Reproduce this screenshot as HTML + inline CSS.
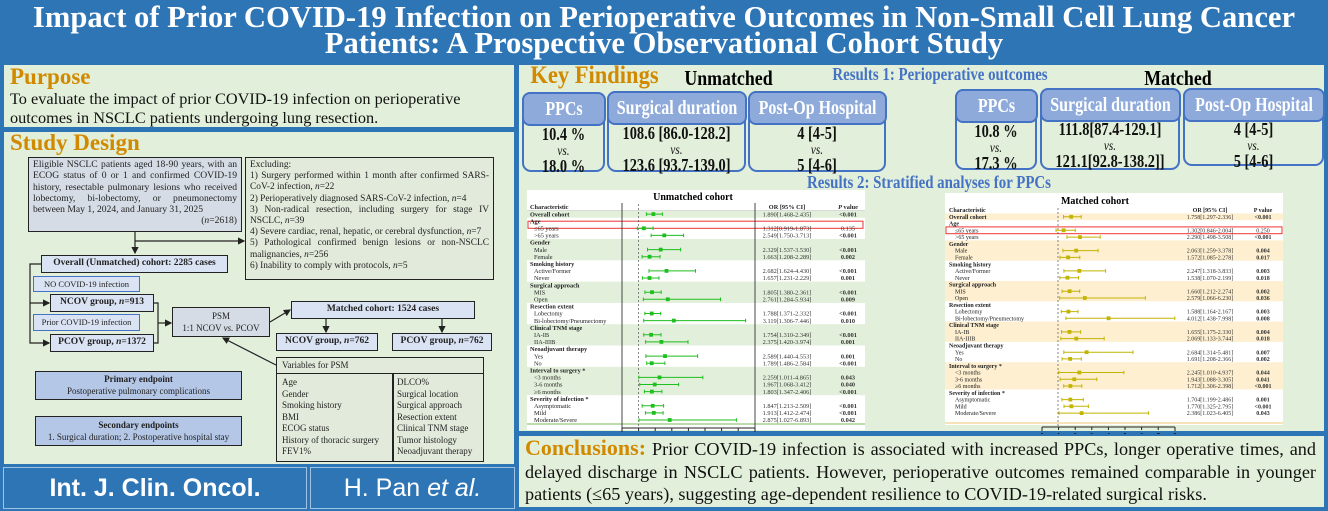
<!DOCTYPE html>
<html><head><meta charset="utf-8">
<style>
*{margin:0;padding:0;box-sizing:border-box}
body{width:1328px;height:511px;position:relative;background:#2e75b6;font-family:"Liberation Serif",serif;overflow:hidden}
.a{position:absolute}
.panel{position:absolute;background:#e2efda;border:2px solid #2e75b6}
.bx{position:absolute;border:1.5px solid #222;font-size:8.6px;line-height:11.4px;color:#222}
.hd{color:#d18a00;font-weight:bold}
.kb{position:absolute;border:2.5px solid #4472c4;border-radius:9px;text-align:center;font-weight:bold;font-size:18px;line-height:15px;color:#111;white-space:nowrap}
.kh{background:#8eaadb;color:#fff;border-radius:8px;border:2.5px solid #4472c4;margin:-2.5px -2.5px 0 -2.5px;height:34px;line-height:31px;font-size:20px}
.kb i{font-weight:normal;font-size:14px}
.c{display:block;width:300%;margin-left:-100%;text-align:center;transform:scaleX(.8);transform-origin:center;white-space:nowrap}
</style></head><body>
<div class="a" style="left:0;top:0;width:1328px;height:62px;color:#fff;font-weight:bold;font-size:30.6px;line-height:26px;text-align:center;padding-top:4px;white-space:nowrap">Impact of Prior COVID-19 Infection on Perioperative Outcomes in Non-Small Cell Lung Cancer<br>Patients: A Prospective Observational Cohort Study</div>

<div class="panel" style="left:2px;top:63px;width:514px;height:66px;padding-left:6px">
<div class="hd" style="font-size:23px;line-height:24px">Purpose</div>
<div style="font-size:16.3px;line-height:19px;color:#111">To evaluate the impact of prior COVID-19 infection on perioperative outcomes in NSCLC patients undergoing lung resection.</div>
</div>

<div class="panel" style="left:2px;top:130px;width:514px;height:336px">
<div class="hd a" style="left:6px;top:-2px;font-size:23px">Study Design</div>
</div>
<div class="bx" style="left:28px;top:157px;width:214px;height:75px;background:#d6dce5;padding:1px 4px;text-align:justify;font-size:9.6px;line-height:11.3px">Eligible NSCLC patients aged 18-90 years, with an ECOG status of 0 or 1 and confirmed COVID-19 history, resectable pulmonary lesions who received lobectomy, bi-lobectomy, or pneumonectomy between May 1, 2024, and January 31, 2025<div style="text-align:right">(<i>n</i>=2618)</div></div>
<div class="bx" style="left:245px;top:157px;width:249px;height:123px;background:#e2eadb;padding:2px 4px;text-align:justify;font-size:9.4px;line-height:11.2px">Excluding:<br>1) Surgery performed within 1 month after confirmed SARS-CoV-2 infection, <i>n</i>=22<br>2) Perioperatively diagnosed SARS-CoV-2 infection, <i>n</i>=4<br>3) Non-radical resection, including surgery for stage IV NSCLC, <i>n</i>=39<br>4) Severe cardiac, renal, hepatic, or cerebral dysfunction, <i>n</i>=7<br>5) Pathological confirmed benign lesions or non-NSCLC malignancies, <i>n</i>=256<br>6) Inability to comply with protocols, <i>n</i>=5</div>
<div class="bx" style="left:41px;top:255px;width:187px;height:18px;background:#dae3f3;font-weight:bold;text-align:center;line-height:15px;font-size:9.5px">Overall (Unmatched) cohort: 2285 cases</div>
<div class="bx" style="left:33px;top:276px;width:107px;height:16px;background:#dae3f3;border:1px solid #4472c4;text-align:center;line-height:14px;font-size:8.5px">NO COVID-19 infection</div>
<div class="bx" style="left:50px;top:294px;width:104px;height:18px;background:#dae3f3;font-weight:bold;text-align:center;line-height:15px;font-size:9.5px">NCOV group, <i>n</i>=913</div>
<div class="bx" style="left:33px;top:314px;width:107px;height:17px;background:#dae3f3;border:1px solid #4472c4;text-align:center;line-height:15px;font-size:8.5px">Prior COVID-19 infection</div>
<div class="bx" style="left:50px;top:334px;width:104px;height:18px;background:#dae3f3;font-weight:bold;text-align:center;line-height:15px;font-size:9.5px">PCOV group, <i>n</i>=1372</div>
<div class="bx" style="left:172px;top:307px;width:98px;height:30px;background:#d6dce5;text-align:center;line-height:12px;font-size:9px;padding-top:2px">PSM<br>1:1 NCOV <i>vs.</i> PCOV</div>
<div class="bx" style="left:291px;top:301px;width:184px;height:18px;background:#dae3f3;font-weight:bold;text-align:center;line-height:15px;font-size:9.5px">Matched cohort: 1524 cases</div>
<div class="bx" style="left:276px;top:333px;width:102px;height:18px;background:#dae3f3;font-weight:bold;text-align:center;line-height:15px;font-size:9.5px">NCOV group, <i>n</i>=762</div>
<div class="bx" style="left:392px;top:333px;width:100px;height:18px;background:#dae3f3;font-weight:bold;text-align:center;line-height:15px;font-size:9.5px">PCOV group, <i>n</i>=762</div>
<div class="bx" style="left:276px;top:357px;width:208px;height:105px;background:#e2eadb;font-size:9px">
<div style="height:16px;border-bottom:1.5px solid #222;padding-left:5px;line-height:15px">Variables for PSM</div>
<div class="a" style="left:115px;top:16px;width:1.5px;height:87px;background:#222"></div>
<div class="a" style="left:5px;top:19px;line-height:11.5px">Age<br>Gender<br>Smoking history<br>BMI<br>ECOG status<br>History of thoracic surgery<br>FEV1%</div>
<div class="a" style="left:120px;top:19px;line-height:11.5px">DLCO%<br>Surgical location<br>Surgical approach<br>Resection extent<br>Clinical TNM stage<br>Tumor histology<br>Neoadjuvant therapy</div>
</div>
<div class="bx" style="left:35px;top:371px;width:207px;height:29px;background:#b4c7e7;text-align:center;line-height:11.5px;padding-top:2px;font-size:9px"><b>Primary endpoint</b><br>Postoperative pulmonary complications</div>
<div class="bx" style="left:35px;top:416px;width:207px;height:30px;background:#b4c7e7;text-align:center;line-height:11.5px;padding-top:3px;font-size:9px"><b>Secondary endpoints</b><br>1. Surgical duration; 2. Postoperative hospital stay</div>
<svg class="a" style="left:0;top:0" width="520" height="470">
<defs><marker id="ar" markerWidth="6" markerHeight="6" refX="5" refY="3" orient="auto"><path d="M0,0L6,3L0,6z" fill="#222"/></marker></defs>
<g stroke="#222" stroke-width="1.2" fill="none">
<path d="M135,232V253" marker-end="url(#ar)"/>
<path d="M135,241H244" marker-end="url(#ar)"/>
<path d="M41,264H30V343H49" marker-end="url(#ar)"/>
<path d="M30,303H49" marker-end="url(#ar)"/>
<path d="M154,303H158V343H154"/>
<path d="M158,323H171" marker-end="url(#ar)"/>
<path d="M270,322L290,310" marker-end="url(#ar)"/>
<path d="M326,319V332" marker-end="url(#ar)"/>
<path d="M442,319V332" marker-end="url(#ar)"/>
<path d="M276,365L223,338" marker-end="url(#ar)"/>
</g></svg>
<div class="a" style="left:3px;top:467px;width:304px;height:42px;background:#2e75b6;border:1px solid #9dc3e6;color:#fff;font-family:'Liberation Sans',sans-serif;font-weight:bold;font-size:25px;line-height:40px;text-align:center">Int. J. Clin. Oncol.</div>
<div class="a" style="left:310px;top:467px;width:205px;height:42px;background:#2e75b6;border:1px solid #9dc3e6;color:#fff;font-family:'Liberation Sans',sans-serif;font-size:25px;line-height:40px;text-align:center">H. Pan <i>et al.</i></div>

<div class="panel" style="left:517px;top:63px;width:809px;height:370px"></div>
<div class="a hd" style="left:523px;top:62px;font-size:25px;width:143px"><span class="c" style="transform:scaleX(.9)">Key Findings</span></div>
<div class="a" style="left:676px;top:66px;font-size:21px;font-weight:bold;width:105px"><span class="c" style="transform:scaleX(.85)">Unmatched</span></div>
<div class="a" style="left:797px;top:64px;font-size:17.5px;font-weight:bold;color:#4472c4;width:286px"><span class="c" style="transform:scaleX(.85)">Results 1: Perioperative outcomes</span></div>
<div class="a" style="left:1137px;top:66px;font-size:21px;font-weight:bold;width:82px"><span class="c" style="transform:scaleX(.85)">Matched</span></div>
<div class="kb" style="left:522px;top:92px;width:83px;height:80px"><div class="kh"><span class="c">PPCs</span></div><div style="margin-top:1px"><span class="c">10.4 %</span><span class="c"><i>vs.</i></span><span class="c">18.0 %</span></div></div>
<div class="kb" style="left:607px;top:91px;width:139px;height:81px"><div class="kh"><span class="c">Surgical duration</span></div><div style="margin-top:1px"><span class="c">108.6 [86.0-128.2]</span><span class="c"><i>vs.</i></span><span class="c">123.6 [93.7-139.0]</span></div></div>
<div class="kb" style="left:748px;top:91px;width:138px;height:81px"><div class="kh"><span class="c">Post-Op Hospital</span></div><div style="margin-top:1px"><span class="c">4 [4-5]</span><span class="c"><i>vs.</i></span><span class="c">5 [4-6]</span></div></div>
<div class="kb" style="left:955px;top:89px;width:82px;height:81px"><div class="kh"><span class="c">PPCs</span></div><div style="margin-top:1px"><span class="c">10.8 %</span><span class="c"><i>vs.</i></span><span class="c">17.3 %</span></div></div>
<div class="kb" style="left:1040px;top:88px;width:140px;height:82px"><div class="kh"><span class="c">Surgical duration</span></div><div style="margin-top:0px"><span class="c">111.8[87.4-129.1]</span><span class="c"><i>vs.</i></span><span class="c">121.1[92.8-138.2]]</span></div></div>
<div class="kb" style="left:1183px;top:88px;width:141px;height:78px"><div class="kh"><span class="c">Post-Op Hospital</span></div><div style="margin-top:0px"><span class="c">4 [4-5]</span><span class="c"><i>vs.</i></span><span class="c">5 [4-6]</span></div></div>

<!-- Unmatched forest -->
<svg class="a" style="left:527px;top:190px;font-family:'Liberation Serif',serif" width="338" height="250">
<rect x="0" y="0" width="338" height="240" fill="#fff"/>
<g fill="#e2efda"><rect x="0" y="20.6" width="338" height="7.1"/><rect x="0" y="49" width="338" height="21.3"/><rect x="0" y="91.6" width="338" height="21.3"/><rect x="0" y="134.2" width="338" height="21.3"/><rect x="0" y="176.8" width="338" height="28.4"/></g>
<line x1="0" y1="20.5" x2="338" y2="20.5" stroke="#bbb" stroke-width="0.6"/>
<line x1="0" y1="234" x2="338" y2="234" stroke="#a9cf8f" stroke-width="1.5"/>
<rect x="1" y="31.2" width="335" height="7.1" fill="none" stroke="#e33" stroke-width="1"/>
<text x="166" y="10" font-size="10" font-weight="bold" text-anchor="middle">Unmatched cohort</text>
<line x1="95" y1="13" x2="95" y2="238" stroke="#333" stroke-width="0.9"/>
<line x1="228" y1="13" x2="228" y2="238" stroke="#333" stroke-width="0.9"/>
<line x1="111.6" y1="14" x2="111.6" y2="238" stroke="#555" stroke-width="0.7" stroke-dasharray="2,2"/>
<g font-size="6.3" fill="#222">
<text x="3" y="19" font-weight="bold">Characteristic</text>
<text x="260" y="19" font-weight="bold" text-anchor="middle">OR [95% CI]</text>
<text x="321" y="19" font-weight="bold" text-anchor="middle"><tspan font-style="italic">P</tspan> value</text>
<text x="3" y="26.3" font-weight="bold">Overall cohort</text>
<text x="3" y="33.4" font-weight="bold">Age</text>
<text x="7" y="40.5">≤65 years</text><text x="7" y="47.6">&gt;65 years</text>
<text x="3" y="54.7" font-weight="bold">Gender</text>
<text x="7" y="61.8">Male</text><text x="7" y="68.9">Female</text>
<text x="3" y="76" font-weight="bold">Smoking history</text>
<text x="7" y="83.1">Active/Former</text><text x="7" y="90.2">Never</text>
<text x="3" y="97.3" font-weight="bold">Surgical approach</text>
<text x="7" y="104.4">MIS</text><text x="7" y="111.5">Open</text>
<text x="3" y="118.6" font-weight="bold">Resection extent</text>
<text x="7" y="125.7">Lobectomy</text><text x="7" y="132.8">Bi-lobectomy/Pneumectomy</text>
<text x="3" y="139.9" font-weight="bold">Clinical TNM stage</text>
<text x="7" y="147">IA-IB</text><text x="7" y="154.1">IIA-IIIB</text>
<text x="3" y="161.2" font-weight="bold">Neoadjuvant therapy</text>
<text x="7" y="168.3">Yes</text><text x="7" y="175.4">No</text>
<text x="3" y="182.5" font-weight="bold">Interval to surgery *</text>
<text x="7" y="189.6">&lt;3 months</text><text x="7" y="196.7">3-6 months</text><text x="7" y="203.8">≥6 months</text>
<text x="3" y="210.9" font-weight="bold">Severity of infection *</text>
<text x="7" y="218">Asymptomatic</text><text x="7" y="225.1">Mild</text><text x="7" y="232.2">Moderate/Severe</text>
</g>
<g font-size="6.3" fill="#333" text-anchor="middle">
<text x="260" y="26.3">1.890[1.468-2.435]</text><text x="321" y="26.3" font-weight="bold">&lt;0.001</text>
<text x="260" y="40.5">1.312[0.919-1.873]</text><text x="321" y="40.5">0.135</text>
<text x="260" y="47.6">2.549[1.750-3.713]</text><text x="321" y="47.6" font-weight="bold">&lt;0.001</text>
<text x="260" y="61.8">2.329[1.537-3.530]</text><text x="321" y="61.8" font-weight="bold">&lt;0.001</text>
<text x="260" y="68.9">1.663[1.208-2.289]</text><text x="321" y="68.9" font-weight="bold">0.002</text>
<text x="260" y="83.1">2.682[1.624-4.430]</text><text x="321" y="83.1" font-weight="bold">&lt;0.001</text>
<text x="260" y="90.2">1.657[1.231-2.229]</text><text x="321" y="90.2" font-weight="bold">0.001</text>
<text x="260" y="104.4">1.805[1.380-2.361]</text><text x="321" y="104.4" font-weight="bold">&lt;0.001</text>
<text x="260" y="111.5">2.761[1.284-5.934]</text><text x="321" y="111.5" font-weight="bold">0.009</text>
<text x="260" y="125.7">1.788[1.371-2.332]</text><text x="321" y="125.7" font-weight="bold">&lt;0.001</text>
<text x="260" y="132.8">3.119[1.306-7.446]</text><text x="321" y="132.8" font-weight="bold">0.010</text>
<text x="260" y="147">1.754[1.310-2.349]</text><text x="321" y="147" font-weight="bold">&lt;0.001</text>
<text x="260" y="154.1">2.375[1.420-3.974]</text><text x="321" y="154.1" font-weight="bold">0.001</text>
<text x="260" y="168.3">2.589[1.440-4.553]</text><text x="321" y="168.3" font-weight="bold">0.001</text>
<text x="260" y="175.4">1.789[1.486-2.584]</text><text x="321" y="175.4" font-weight="bold">&lt;0.001</text>
<text x="260" y="189.6">2.259[1.011-4.865]</text><text x="321" y="189.6" font-weight="bold">0.043</text>
<text x="260" y="196.7">1.967[1.068-3.412]</text><text x="321" y="196.7" font-weight="bold">0.040</text>
<text x="260" y="203.8">1.803[1.347-2.406]</text><text x="321" y="203.8" font-weight="bold">&lt;0.001</text>
<text x="260" y="218">1.847[1.213-2.509]</text><text x="321" y="218" font-weight="bold">&lt;0.001</text>
<text x="260" y="225.1">1.913[1.412-2.474]</text><text x="321" y="225.1" font-weight="bold">&lt;0.001</text>
<text x="260" y="232.2">2.875[1.027-6.893]</text><text x="321" y="232.2" font-weight="bold">0.042</text>
</g>
<g stroke="#1fbf1f" stroke-width="1" fill="#1fbf1f">
<path d="M119.4,24.1H135.4M119.4,22.3V25.9M135.4,22.3V25.9"/><rect x="125" y="22.7" width="2.8" height="2.8"/>
<path d="M110.3,38.3H126.1M110.3,36.5V40.1M126.1,36.5V40.1"/><rect x="115.4" y="36.9" width="2.8" height="2.8"/>
<path d="M124.1,45.4H156.6M124.1,43.6V47.2M156.6,43.6V47.2"/><rect x="135.9" y="44" width="2.8" height="2.8"/>
<path d="M120.5,59.6H153.6M120.5,57.8V61.4M153.6,57.8V61.4"/><rect x="132.3" y="58.2" width="2.8" height="2.8"/>
<path d="M115.1,66.7H133M115.1,64.9V68.5M133,64.9V68.5"/><rect x="121.2" y="65.3" width="2.8" height="2.8"/>
<path d="M122,80.9H168.5M122,79.1V82.7M168.5,79.1V82.7"/><rect x="138.1" y="79.5" width="2.8" height="2.8"/>
<path d="M115.4,88H132M115.4,86.2V89.8M132,86.2V89.8"/><rect x="121.1" y="86.6" width="2.8" height="2.8"/>
<path d="M117.9,102.2H134.2M117.9,100.4V104M134.2,100.4V104"/><rect x="123.6" y="100.8" width="2.8" height="2.8"/>
<path d="M116.3,109.3H193.5M116.3,107.5V111.1M193.5,107.5V111.1"/><rect x="139.4" y="107.9" width="2.8" height="2.8"/>
<path d="M117.8,123.5H133.7M117.8,121.7V125.3M133.7,121.7V125.3"/><rect x="123.3" y="122.1" width="2.8" height="2.8"/>
<path d="M116.7,130.6H218.6M116.7,128.8V132.4M218.6,128.8V132.4"/><rect x="145.4" y="129.2" width="2.8" height="2.8"/>
<path d="M116.7,144.8H134M116.7,143V146.6M134,143V146.6"/><rect x="122.7" y="143.4" width="2.8" height="2.8"/>
<path d="M118.6,151.9H161M118.6,150.1V153.7M161,150.1V153.7"/><rect x="133" y="150.5" width="2.8" height="2.8"/>
<path d="M118.9,166.1H170.6M118.9,164.3V167.9M170.6,164.3V167.9"/><rect x="136.6" y="164.7" width="2.8" height="2.8"/>
<path d="M119.7,173.2H137.9M119.7,171.4V175M137.9,171.4V175"/><rect x="123.3" y="171.8" width="2.8" height="2.8"/>
<path d="M111.8,187.4H175.8M111.8,185.6V189.2M175.8,185.6V189.2"/><rect x="131.1" y="186" width="2.8" height="2.8"/>
<path d="M112.7,194.5H151.6M112.7,192.7V196.3M151.6,192.7V196.3"/><rect x="126.3" y="193.1" width="2.8" height="2.8"/>
<path d="M117.4,201.6H134.9M117.4,199.8V203.4M134.9,199.8V203.4"/><rect x="123.5" y="200.2" width="2.8" height="2.8"/>
<path d="M115.1,215.8H136.6M115.1,214V217.6M136.6,214V217.6"/><rect x="124.3" y="214.4" width="2.8" height="2.8"/>
<path d="M118.4,222.9H136.1M118.4,221.1V224.7M136.1,221.1V224.7"/><rect x="125.4" y="221.5" width="2.8" height="2.8"/>
<path d="M112,230H209.4M112,228.2V231.8M209.4,228.2V231.8"/><rect x="141.3" y="228.6" width="2.8" height="2.8"/>
</g>
<g stroke="#222" stroke-width="1"><path d="M95,238H228M95,238V242M111.6,238V241M128.2,238V241M144.8,238V241M161.4,238V241M178,238V241M194.6,238V241M211.2,238V241M228,238V242"/></g>
<g font-size="6" font-weight="bold" text-anchor="middle"><text x="95" y="248">0</text><text x="111.6" y="248">1</text><text x="128.2" y="248">2</text><text x="144.8" y="248">3</text><text x="161.4" y="248">4</text><text x="178" y="248">5</text><text x="194.6" y="248">6</text><text x="211.2" y="248">7</text><text x="228" y="248">8</text></g>
</svg>

<!-- Matched forest -->
<svg class="a" style="left:945px;top:190px;font-family:'Liberation Serif',serif" width="338" height="250">
<rect x="0" y="3" width="338" height="232" fill="#fff"/>
<g fill="#fdefd0"><rect x="0" y="23.4" width="338" height="6.8"/><rect x="0" y="50.4" width="338" height="20.3"/><rect x="0" y="91" width="338" height="20.3"/><rect x="0" y="131.6" width="338" height="20.3"/><rect x="0" y="172.3" width="338" height="27.1"/></g>
<line x1="0" y1="233" x2="338" y2="233" stroke="#f2d28c" stroke-width="1.2"/>
<rect x="1" y="36.9" width="336" height="6.8" fill="none" stroke="#e33" stroke-width="1"/>
<text x="150" y="14" font-size="10" font-weight="bold" text-anchor="middle">Matched cohort</text>
<line x1="113" y1="18" x2="113" y2="236" stroke="#555" stroke-width="0.7" stroke-dasharray="2,2"/>
<g font-size="6" fill="#222">
<text x="4" y="22" font-weight="bold">Characteristic</text>
<text x="265" y="22" font-weight="bold" text-anchor="middle">OR [95% CI]</text>
<text x="318" y="22" font-weight="bold" text-anchor="middle">P value</text>
<text x="4" y="28.9" font-weight="bold">Overall cohort</text>
<text x="4" y="35.7" font-weight="bold">Age</text>
<text x="10" y="42.4">≤65 years</text><text x="10" y="49.2">&gt;65 years</text>
<text x="4" y="56" font-weight="bold">Gender</text>
<text x="10" y="62.7">Male</text><text x="10" y="69.5">Female</text>
<text x="4" y="76.3" font-weight="bold">Smoking history</text>
<text x="10" y="83">Active/Former</text><text x="10" y="89.8">Never</text>
<text x="4" y="96.6" font-weight="bold">Surgical approach</text>
<text x="10" y="103.3">MIS</text><text x="10" y="110.1">Open</text>
<text x="4" y="116.9" font-weight="bold">Resection extent</text>
<text x="10" y="123.7">Lobectomy</text><text x="10" y="130.4">Bi-lobectomy/Pneumectomy</text>
<text x="4" y="137.2" font-weight="bold">Clinical TNM stage</text>
<text x="10" y="144">IA-IB</text><text x="10" y="150.7">IIA-IIIB</text>
<text x="4" y="157.5" font-weight="bold">Neoadjuvant therapy</text>
<text x="10" y="164.3">Yes</text><text x="10" y="171">No</text>
<text x="4" y="177.8" font-weight="bold">Interval to surgery *</text>
<text x="10" y="184.6">&lt;3 months</text><text x="10" y="191.4">3-6 months</text><text x="10" y="198.1">≥6 months</text>
<text x="4" y="204.9" font-weight="bold">Severity of infection *</text>
<text x="10" y="211.7">Asymptomatic</text><text x="10" y="218.4">Mild</text><text x="10" y="225.2">Moderate/Severe</text>
</g>
<g font-size="6" fill="#333" text-anchor="middle">
<text x="265" y="28.9">1.758[1.297-2.336]</text><text x="318" y="28.9" font-weight="bold">&lt;0.001</text>
<text x="265" y="42.4">1.302[0.846-2.004]</text><text x="318" y="42.4">0.250</text>
<text x="265" y="49.2">2.290[1.498-3.508]</text><text x="318" y="49.2" font-weight="bold">&lt;0.001</text>
<text x="265" y="62.7">2.063[1.259-3.378]</text><text x="318" y="62.7" font-weight="bold">0.004</text>
<text x="265" y="69.5">1.572[1.085-2.278]</text><text x="318" y="69.5" font-weight="bold">0.017</text>
<text x="265" y="83">2.247[1.318-3.833]</text><text x="318" y="83" font-weight="bold">0.003</text>
<text x="265" y="89.8">1.538[1.070-2.199]</text><text x="318" y="89.8" font-weight="bold">0.018</text>
<text x="265" y="103.3">1.660[1.212-2.274]</text><text x="318" y="103.3" font-weight="bold">0.002</text>
<text x="265" y="110.1">2.579[1.066-6.230]</text><text x="318" y="110.1" font-weight="bold">0.036</text>
<text x="265" y="123.7">1.588[1.164-2.167]</text><text x="318" y="123.7" font-weight="bold">0.003</text>
<text x="265" y="130.4">4.012[1.438-7.998]</text><text x="318" y="130.4" font-weight="bold">0.008</text>
<text x="265" y="144">1.655[1.175-2.330]</text><text x="318" y="144" font-weight="bold">0.004</text>
<text x="265" y="150.7">2.069[1.133-3.744]</text><text x="318" y="150.7" font-weight="bold">0.018</text>
<text x="265" y="164.3">2.684[1.314-5.481]</text><text x="318" y="164.3" font-weight="bold">0.007</text>
<text x="265" y="171">1.691[1.208-2.366]</text><text x="318" y="171" font-weight="bold">0.002</text>
<text x="265" y="184.6">2.245[1.010-4.937]</text><text x="318" y="184.6" font-weight="bold">0.044</text>
<text x="265" y="191.4">1.943[1.088-3.305]</text><text x="318" y="191.4" font-weight="bold">0.041</text>
<text x="265" y="198.1">1.712[1.306-2.398]</text><text x="318" y="198.1" font-weight="bold">&lt;0.001</text>
<text x="265" y="211.7">1.704[1.199-2.486]</text><text x="318" y="211.7" font-weight="bold">0.001</text>
<text x="265" y="218.4">1.770[1.325-2.795]</text><text x="318" y="218.4" font-weight="bold">&lt;0.001</text>
<text x="265" y="225.2">2.386[1.023-6.405]</text><text x="318" y="225.2" font-weight="bold">0.043</text>
</g>
<g stroke="#c2b400" stroke-width="1" fill="#c2b400">
<path d="M118.5,26.8H136.2M118.5,25V28.6M136.2,25V28.6"/><rect x="124.8" y="25.4" width="2.8" height="2.8"/>
<path d="M111,40.3H130.3M111,38.5V42.1M130.3,38.5V42.1"/><rect x="117.2" y="38.9" width="2.8" height="2.8"/>
<path d="M121.9,47.1H155.2M121.9,45.3V48.9M155.2,45.3V48.9"/><rect x="133.6" y="45.7" width="2.8" height="2.8"/>
<path d="M117.9,60.6H153.1M117.9,58.8V62.4M153.1,58.8V62.4"/><rect x="129.8" y="59.2" width="2.8" height="2.8"/>
<path d="M115,67.4H134.8M115,65.6V69.2M134.8,65.6V69.2"/><rect x="121.7" y="66" width="2.8" height="2.8"/>
<path d="M118.9,80.9H160.6M118.9,79.1V82.7M160.6,79.1V82.7"/><rect x="132.9" y="79.5" width="2.8" height="2.8"/>
<path d="M114.8,87.7H133.5M114.8,85.9V89.5M133.5,85.9V89.5"/><rect x="121.1" y="86.3" width="2.8" height="2.8"/>
<path d="M117.1,101.2H134.7M117.1,99.4V103M134.7,99.4V103"/><rect x="123.2" y="99.8" width="2.8" height="2.8"/>
<path d="M114.7,108H200.4M114.7,106.2V109.8M200.4,106.2V109.8"/><rect x="138.4" y="106.6" width="2.8" height="2.8"/>
<path d="M116.3,121.6H133M116.3,119.8V123.4M133,119.8V123.4"/><rect x="122" y="120.2" width="2.8" height="2.8"/>
<path d="M120.9,128.3H229.8M120.9,126.5V130.1M229.8,126.5V130.1"/><rect x="162.2" y="126.9" width="2.8" height="2.8"/>
<path d="M116.5,141.9H135.7M116.5,140.1V143.7M135.7,140.1V143.7"/><rect x="123.1" y="140.5" width="2.8" height="2.8"/>
<path d="M115.8,148.6H159.2M115.8,146.8V150.4M159.2,146.8V150.4"/><rect x="129.9" y="147.2" width="2.8" height="2.8"/>
<path d="M118.8,162.2H188M118.8,160.4V164M188,160.4V164"/><rect x="140.2" y="160.8" width="2.8" height="2.8"/>
<path d="M117.1,168.9H136.3M117.1,167.1V170.7M136.3,167.1V170.7"/><rect x="123.7" y="167.5" width="2.8" height="2.8"/>
<path d="M113.8,182.5H178.9M113.8,180.7V184.3M178.9,180.7V184.3"/><rect x="132.9" y="181.1" width="2.8" height="2.8"/>
<path d="M115.1,189.3H151.8M115.1,187.5V191.1M151.8,187.5V191.1"/><rect x="127.9" y="187.9" width="2.8" height="2.8"/>
<path d="M118.7,196H136.8M118.7,194.2V197.8M136.8,194.2V197.8"/><rect x="124" y="194.6" width="2.8" height="2.8"/>
<path d="M116.9,209.6H138.3M116.9,207.8V211.4M138.3,207.8V211.4"/><rect x="123.9" y="208.2" width="2.8" height="2.8"/>
<path d="M119,216.3H143.4M119,214.5V218.1M143.4,214.5V218.1"/><rect x="125" y="214.9" width="2.8" height="2.8"/>
<path d="M114,223.1H203.4M114,221.3V224.9M203.4,221.3V224.9"/><rect x="135.2" y="221.7" width="2.8" height="2.8"/>
</g>
<g stroke="#222" stroke-width="1"><path d="M97,237H230M97,237V241M113.6,237V240M130.2,237V240M146.8,237V240M163.4,237V240M180,237V240M196.6,237V240M213.2,237V240M230,237V241"/></g>
<g font-size="6" font-weight="bold" text-anchor="middle"><text x="97" y="247">0</text><text x="113.6" y="247">1</text><text x="130.2" y="247">2</text><text x="146.8" y="247">3</text><text x="163.4" y="247">4</text><text x="180" y="247">5</text><text x="196.6" y="247">6</text><text x="213.2" y="247">7</text><text x="230" y="247">8</text></g>
</svg>
<div class="a" style="left:780px;top:173px;width:298px;font-size:17.5px;line-height:18px;font-weight:bold;color:#4472c4"><span class="c" style="transform:scaleX(.85)">Results 2: Stratified analyses for PPCs</span></div>

<div class="panel" style="left:517px;top:434px;width:809px;height:75px;padding:1px 8px 0 6px;font-size:18.2px;line-height:22.5px;text-align:justify;color:#111"><span class="hd" style="font-size:22px">Conclusions:</span> Prior COVID-19 infection is associated with increased PPCs, longer operative times, and delayed discharge in NSCLC patients. However, perioperative outcomes remained comparable in younger patients (≤65 years), suggesting age-dependent resilience to COVID-19-related surgical risks.</div>
</body></html>
